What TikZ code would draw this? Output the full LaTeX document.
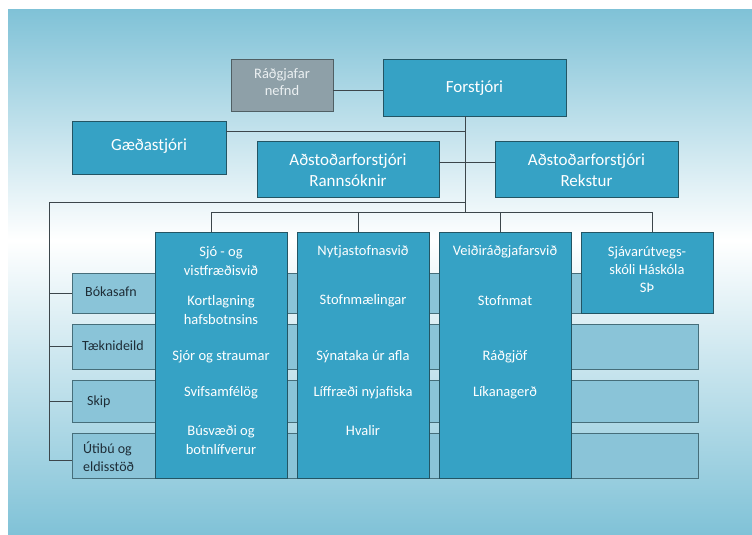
\documentclass[tikz,border=0pt]{standalone}
\usepackage{fontspec}
\setmainfont{Carlito}
\definecolor{bgblue}{RGB}{128,194,215}
\definecolor{boxfill}{RGB}{54,162,197}
\definecolor{boxline}{RGB}{35,85,100}
\definecolor{grayfill}{RGB}{142,160,168}
\definecolor{grayline}{RGB}{80,95,100}
\definecolor{barfill}{RGB}{138,196,216}
\definecolor{barline}{RGB}{70,110,122}
\definecolor{conn}{RGB}{60,70,75}
\definecolor{bartext}{RGB}{30,45,55}
\begin{document}
\begin{tikzpicture}[x=1pt,y=-1pt,
  mainbox/.style={draw=boxline, fill=boxfill, line width=1pt, inner sep=0pt, outer sep=0pt, anchor=north west},
  graybox/.style={draw=grayline, fill=grayfill, line width=1pt, inner sep=0pt, outer sep=0pt, anchor=north west},
  barbox/.style={draw=barline, fill=barfill, line width=0.9pt, inner sep=0pt, outer sep=0pt, anchor=north west},
  bigtxt/.style={text=white, font=\fontsize{17}{21}\selectfont, align=center, inner sep=0pt},
  coltxt/.style={text=white, font=\fontsize{14.5}{18.5}\selectfont, align=center, inner sep=0pt},
  bartxt/.style={text=bartext, font=\fontsize{14}{18}\selectfont, align=left, inner sep=0pt, anchor=west},
  conline/.style={draw=conn, line width=0.8pt}]
\useasboundingbox (0,0) rectangle (752,535);
\fill[white] (0,0) rectangle (752,535);
\shade[top color=bgblue, bottom color=white] (8,10) rectangle (752,240);
\shade[top color=white, bottom color=bgblue] (8,240) rectangle (752,535);

% top boxes
\node[graybox, minimum width=102pt, minimum height=51pt] (rg) at (231,60) {};
\node[mainbox, minimum width=183pt, minimum height=56pt] (fo) at (383,60) {};
\node[mainbox, minimum width=154pt, minimum height=53pt] (gq) at (72,121) {};
\node[mainbox, minimum width=182pt, minimum height=56pt] (ra) at (257,141) {};
\node[mainbox, minimum width=183pt, minimum height=56pt] (re) at (495,141) {};

\node[text={rgb,255:red,235;green,240;blue,242}, font=\fontsize{14.5}{17}\selectfont, align=center, inner sep=0pt] (rgt) at (282,82) {Ráðgjafar\\nefnd};
\node[bigtxt] (fot) at (474.5,88) {Forstjóri};
\node[bigtxt] (gqt) at (149,146) {Gæðastjóri};
\node[bigtxt] (rat) at (348,170) {Aðstoðarforstjóri\\Rannsóknir};
\node[bigtxt] (ret) at (586.5,170) {Aðstoðarforstjóri\\Rekstur};

% connectors top
\coordinate (tA) at (465,116);
\coordinate (tG) at (465,131);
\coordinate (tC) at (465,202);
\coordinate (tB) at (465,212);
\draw[conline] ([yshift=-4.5pt]rg.east) -- ([yshift=-4.5pt]rg.east -| fo.west);
\draw[conline] (tA) -- (tB);
\draw[conline] (gq.east |- tG) -- (tG);
\draw[conline] ([yshift=7pt]ra.east) -- ([yshift=7pt]re.west);

% bars
\node[barbox, minimum width=528pt, minimum height=40pt] (b1) at (72,273) {};
\node[barbox, minimum width=626pt, minimum height=45pt] (b2) at (72,324) {};
\node[barbox, minimum width=626pt, minimum height=42pt] (b3) at (72,380) {};
\node[barbox, minimum width=626pt, minimum height=45pt] (b4) at (72,433) {};
\node[bartxt] (l1) at (85,292) {Bókasafn};
\node[bartxt] (l2) at (82,346) {Tæknideild};
\node[bartxt] (l3) at (87,402) {Skip};
\node[bartxt] (l4) at (83,457) {Útibú og\\eldisstöð};

% left connector
\coordinate (L0) at (49,202);
\coordinate (L4) at (49,460);
\draw[conline] (tC) -- (L0) -- (L4) -- (L4 -| b4.west);
\draw[conline] (b1.west -| L0) -- (b1.west);
\draw[conline] (b2.west -| L0) -- (b2.west);
\draw[conline] (b3.west -| L0) -- (b3.west);

% columns
\node[mainbox, minimum width=132pt, minimum height=246pt] (c1) at (155,232) {};
\node[mainbox, minimum width=132pt, minimum height=246pt] (c2) at (297,232) {};
\node[mainbox, minimum width=132pt, minimum height=246pt] (c3) at (439,232) {};
\node[mainbox, minimum width=132pt, minimum height=81pt] (c4) at (581,232) {};

% column drops
\coordinate (h1) at (211,212);
\coordinate (h2) at (358,212);
\coordinate (h3) at (500,212);
\coordinate (h4) at (652,212);
\draw[conline] (h1) -- (h4);
\draw[conline] (h1) -- (h1 |- c1.north);
\draw[conline] (h2) -- (h2 |- c2.north);
\draw[conline] (h3) -- (h3 |- c3.north);
\draw[conline] (h4) -- (h4 |- c4.north);

% column texts
\node[coltxt] (c1a) at (221,261) {Sjó - og\\vistfræðisvið};
\node[coltxt] (c1b) at (221,310) {Kortlagning\\hafsbotnsins};
\node[coltxt] (c1c) at (221,357) {Sjór og straumar};
\node[coltxt] (c1d) at (221,393) {Svifsamfélög};
\node[coltxt] (c1e) at (221,440) {Búsvæði og\\botnlífverur};

\node[coltxt] (c2a) at (363,252) {Nytjastofnasvið};
\node[coltxt] (c2b) at (363,301) {Stofnmælingar};
\node[coltxt] (c2c) at (363,357) {Sýnataka úr afla};
\node[coltxt] (c2d) at (363,393) {Líffræði nyjafiska};
\node[coltxt] (c2e) at (363,431) {Hvalir};

\node[coltxt] (c3a) at (505,252) {Veiðiráðgjafarsvið};
\node[coltxt] (c3b) at (505,301) {Stofnmat};
\node[coltxt] (c3c) at (505,357) {Ráðgjöf};
\node[coltxt] (c3d) at (505,393) {Líkanagerð};

\node[coltxt, font=\fontsize{14.5}{18}\selectfont] (c4a) at (647,270) {Sjávarútvegs-\\skóli Háskóla\\SÞ};
\end{tikzpicture}
\end{document}
